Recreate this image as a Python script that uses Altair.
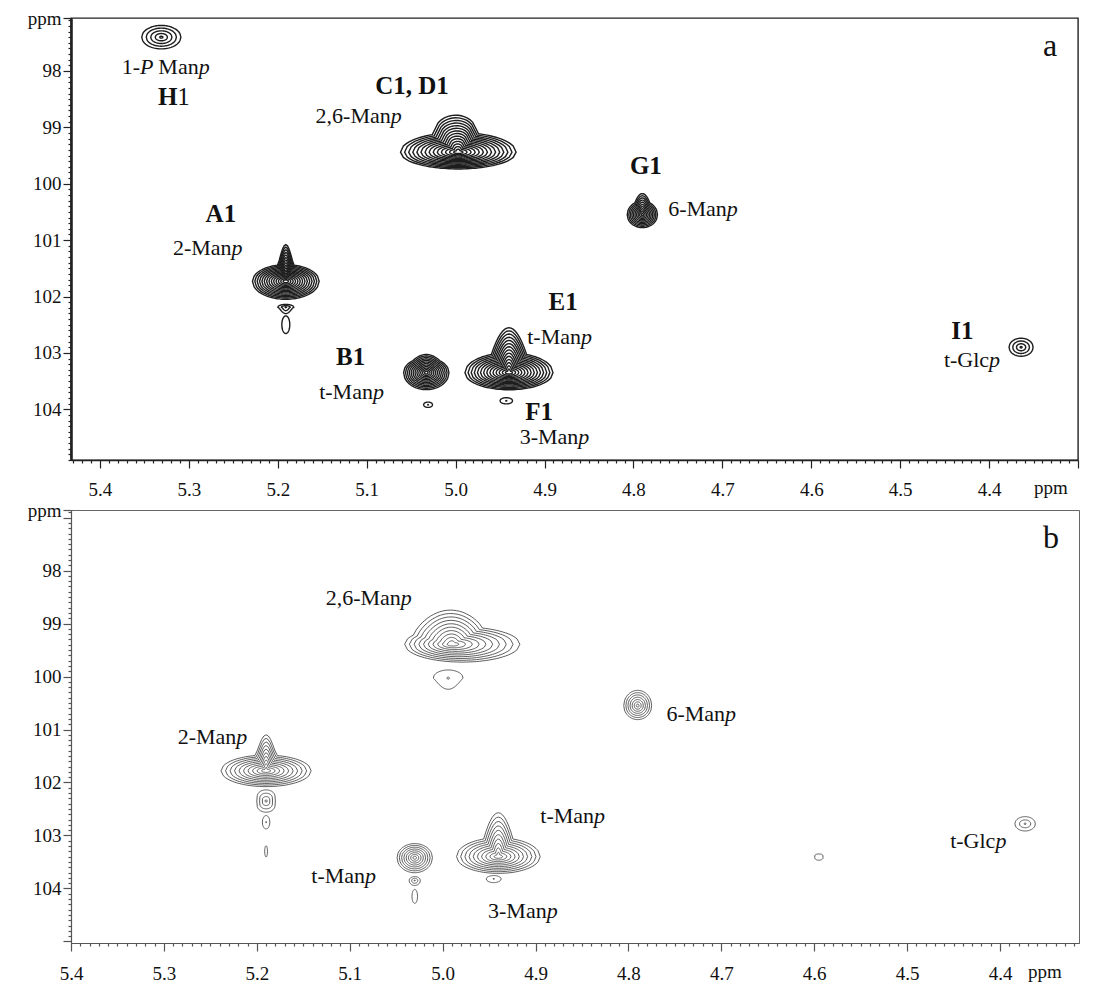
import altair as alt
import numpy as np
import pandas as pd

FONT = "Liberation Serif"

# ---------------- panel a : peaks (1H ppm, 13C ppm, outer width ppm, contour levels) ----------
a_peak = ["a_H1", "a_C1D1", "a_A1", "a_A1b", "a_A1t", "a_G1", "a_B1", "a_B1b", "a_E1F1", "a_E1b", "a_I1"]
a_h = [5.331, 4.997, 5.191, 5.191, 5.191, 4.790, 5.033, 5.031, 4.940, 4.943, 4.364]
a_c = [97.40, 99.44, 101.73, 102.19, 102.50, 100.55, 103.35, 103.92, 103.35, 103.85, 102.90]
a_w = [0.044, 0.130, 0.075, 0.018, 0.009, 0.034, 0.051, 0.010, 0.099, 0.014, 0.027]
a_n = [5, 14, 14, 3, 1, 10, 12, 2, 14, 2, 4]

# ---------------- panel b : peaks ----------------
b_peak = ["b_26M", "b_26Mb", "b_6M", "b_2M", "b_2Mb", "b_2Mt", "b_tMB", "b_tMBb", "b_tMBt",
          "b_tME", "b_tMEb", "b_tGlc", "b_d459", "b_t519"]
b_h = [4.990, 4.994, 4.790, 5.190, 5.190, 5.190, 5.030, 5.030, 5.030, 4.940, 4.945, 4.373, 4.595, 5.190]
b_c = [99.39, 100.03, 100.55, 101.78, 102.35, 102.75, 103.42, 103.85, 104.15, 103.40, 103.82, 102.78, 103.42, 103.30]
b_w = [0.124, 0.032, 0.030, 0.097, 0.020, 0.008, 0.038, 0.012, 0.006, 0.090, 0.016, 0.022, 0.009, 0.003]
b_n = [10, 2, 7, 10, 4, 2, 8, 3, 1, 10, 2, 3, 1, 1]

# ---------------- labels ----------------
a_lab_text = ["1-|P", "Man|p", "H|1", "C1, D1", "2,6-Man|p", "A1", "2-Man|p", "G1", "6-Man|p",
              "E1", "t-Man|p", "B1", "t-Man|p", "F1", "3-Man|p", "I1", "t-Glc|p"]
a_lab_kind = ["ri", "ri", "br", "b", "ri", "b", "ri", "b", "ri", "b", "ri", "b", "ri", "b", "ri", "b", "ri"]
a_lab_x = [5.355, 5.289, 5.313, 5.049, 5.073, 5.264, 5.252, 4.786, 4.695, 4.879, 4.859, 5.118,
           5.093, 4.906, 4.862, 4.430, 4.400]
a_lab_y = [97.93, 97.93, 98.46, 98.27, 98.80, 100.54, 101.145, 99.69, 100.45, 102.09, 102.71,
           103.08, 103.70, 104.04, 104.50, 102.62, 103.12]

b_lab_text = ["2,6-Man|p", "6-Man|p", "2-Man|p", "t-Man|p", "3-Man|p", "t-Man|p", "t-Glc|p"]
b_lab_kind = ["ri"] * 7
b_lab_x = [5.045, 4.696, 5.222, 5.0835, 4.888, 4.837, 4.405]
b_lab_y = [98.51, 100.70, 101.15, 103.76, 104.42, 102.63, 103.10]

# ---------------- axes ----------------
A_XDOM = [5.4326, 4.300]
A_YDOM = [97.06, 104.90]
B_XDOM = [5.400, 4.315]
B_YDOM = [96.856, 105.03]
A_W, A_H = 1007, 442
B_W, B_H = 1008, 433
X_LABELS = [4.4, 5.4]      # labelled range of the 1H axis
Y_LABELS = [98, 104]       # labelled range of the 13C axis

# ---------------- contour outline styles (units of half width) ----------------
SHAPES = {
    "a_H1": dict(top=0.6, bot=0.6),
    "a_C1D1": dict(top=0.34, bot=0.29, bh=0.3, bc=-0.05, bw=0.36, bp=0.4),
    "a_A1": dict(top=0.5, bot=0.54, bh=0.6, bc=0.0, bw=0.25, bp=1.5),
    "a_A1b": dict(top=0.35, bot=0.8, pl=1.5),
    "a_A1t": dict(top=2.2, bot=2.2),
    "a_G1": dict(top=0.9, bot=0.85, bh=0.5, bw=0.5),
    "a_B1": dict(top=0.65, bot=0.75, bh=0.15, bw=0.6),
    "a_B1b": dict(top=0.6, bot=0.6),
    "a_E1F1": dict(top=0.45, bot=0.39, bh=0.57, bw=0.4),
    "a_E1b": dict(top=0.5, bot=0.5),
    "a_I1": dict(top=0.75, bot=0.75),
    "b_26M": dict(top=0.3, bot=0.31, bh=0.3, bc=-0.25, bw=0.6, bp=0.8, xs=0.18),
    "b_26Mb": dict(top=0.55, bot=0.75, pl=1.2),
    "b_6M": dict(top=1.1, bot=1.0),
    "b_2M": dict(top=0.35, bot=0.35, bh=0.45, bw=0.25, bp=1.5),
    "b_2Mb": dict(top=1.2, bot=1.2, pu=0.3, pl=0.3),
    "b_2Mt": dict(top=1.8, bot=1.8),
    "b_tMB": dict(top=0.8, bot=0.85),
    "b_tMBb": dict(top=0.7, bot=0.9),
    "b_tMBt": dict(top=2.5, bot=2.5),
    "b_tME": dict(top=0.45, bot=0.4, bh=0.6, bw=0.35),
    "b_tMEb": dict(top=0.45, bot=0.5),
    "b_tGlc": dict(top=0.7, bot=0.7),
    "b_d459": dict(top=0.9, bot=0.6, pu=0.2),
    "b_t519": dict(top=4.0, bot=4.0),
}


def outline(top, bot, pu=0.5, pl=0.5, bh=0.0, bc=0.0, bw=0.3, bp=1.0, xs=0.0):
    us = np.linspace(-1, 1, 41)
    up = []
    for u in us:
        b = max(0.0, 1 - ((u - bc) / bw) ** 2) ** bp if bh else 0.0
        up.append((u + xs, -(top * max(0.0, 1 - u * u) ** pu + bh * b)))
    lo = [(u + xs, bot * max(0.0, 1 - u * u) ** pl) for u in us[::-1]][1:-1]
    pts = up + lo
    return "M " + " L ".join(f"{x:.3f} {y:.3f}" for x, y in pts) + " Z"


def rings(names, hs, cs, ws, ns, lo):
    rows = []
    for nm, h, c, w, n in zip(names, hs, cs, ws, ns):
        fr = np.linspace(1.0, lo, n) if n > 1 else [1.0]
        for f in fr:
            rows.append({"peak": nm, "x": h, "y": c, "w": w * f})
    return pd.DataFrame(rows)


def fragments(texts, kinds, xs, ys):
    out = {"reg_r": [], "ital_l": [], "bold_c": [], "bold_r": [], "reg_l": []}
    for t, k, x, y in zip(texts, kinds, xs, ys):
        if k == "b":
            out["bold_c"].append({"t": t, "x": x, "y": y})
        else:
            left, right = t.split("|")
            if k == "ri":
                out["reg_r"].append({"t": left, "x": x, "y": y})
                out["ital_l"].append({"t": right, "x": x, "y": y})
            else:
                out["bold_r"].append({"t": left, "x": x, "y": y})
                out["reg_l"].append({"t": right, "x": x, "y": y})
    return {k: pd.DataFrame(v, columns=["t", "x", "y"]) for k, v in out.items()}


def panel(names, hs, cs, ws, ns, lo, labels, xdom, ydom, W, H, color, sw, axcol, domw_x, domw_y,
          letter, ppm_xy, frame_col, frame_w, lab_pad):
    px_per = W / (xdom[0] - xdom[1])
    ring_df = rings(names, hs, cs, ws, ns, lo)

    xmin = np.round(np.arange(round(xdom[1] + 0.0049, 2), xdom[0] + 1e-9, 0.01), 2).tolist()
    ymin = [ydom[0]] + np.round(np.arange(np.ceil(ydom[0] * 10 + 1e-6) / 10, ydom[1] + 1e-9, 0.1), 1).tolist()

    top = ydom[0] + 0.02
    xmaj = "abs(datum.value * 10 - round(datum.value * 10)) < 0.001"
    xlab = f"({xmaj}) && datum.value > {X_LABELS[0] - 0.05} && datum.value < {X_LABELS[1] + 0.05}"
    yint = "abs(datum.value - round(datum.value)) < 0.001"
    ymaj = f"datum.value < {top} || {yint}"
    ylab = f"({yint}) && datum.value > {Y_LABELS[0] - 0.5} && datum.value < {Y_LABELS[1] + 0.5}"

    X = alt.X("x:Q", scale=alt.Scale(domain=xdom, nice=False, zero=False),
              axis=alt.Axis(values=xmin, title=None, grid=False, orient="bottom",
                            labelExpr=f"({xlab}) ? format(datum.value, '.1f') : ''",
                            tickSize={"condition": {"test": xmaj, "value": 8}, "value": 3},
                            tickColor=axcol, tickWidth=1.2, domainColor=axcol, domainWidth=domw_x,
                            labelFont=FONT, labelFontSize=19, labelColor="#111", labelPadding=lab_pad,
                            labelOverlap=False, labelFlush=False, labelBound=False))
    Y = alt.Y("y:Q", scale=alt.Scale(domain=ydom, nice=False, zero=False, reverse=True),
              axis=alt.Axis(values=ymin, title=None, grid=False, orient="left",
                            labelExpr=f"datum.value < {top} ? 'ppm' : (({ylab}) ? format(datum.value, 'd') : '')",
                            tickSize={"condition": {"test": ymaj, "value": 8}, "value": 3},
                            tickColor=axcol, tickWidth=1.2, domainColor=axcol, domainWidth=domw_y,
                            labelFont=FONT, labelFontSize=19, labelColor="#111", labelPadding=2,
                            labelOverlap=False, labelFlush=False, labelBound=False))

    cont = alt.Chart(ring_df).mark_point(filled=False, color=color, strokeWidth=sw, opacity=1).encode(
        x=X, y=Y,
        shape=alt.Shape("peak:N", scale=alt.Scale(domain=names, range=[outline(**SHAPES[n]) for n in names]),
                        legend=None),
        size=alt.Size("w:Q", scale=alt.Scale(type="pow", exponent=2, domain=[0, 1], range=[0, px_per ** 2]),
                      legend=None),
    )

    frags = fragments(*labels)
    layers = [cont]
    styles = {
        "reg_r": dict(align="right", fontStyle="normal", fontWeight="normal", fontSize=22),
        "ital_l": dict(align="left", fontStyle="italic", fontWeight="normal", fontSize=22),
        "bold_c": dict(align="center", fontStyle="normal", fontWeight="bold", fontSize=25),
        "bold_r": dict(align="right", fontStyle="normal", fontWeight="bold", fontSize=25),
        "reg_l": dict(align="left", fontStyle="normal", fontWeight="normal", fontSize=25),
    }
    for k, df in frags.items():
        if len(df) == 0:
            continue
        layers.append(alt.Chart(df).mark_text(font=FONT, baseline="middle", color="#111", **styles[k]).encode(
            x=X, y=Y, text="t:N"))

    layers.append(alt.Chart(pd.DataFrame({"t": [letter]})).mark_text(
        font=FONT, fontSize=32, baseline="middle", align="center", color="#111").encode(
        x=alt.value(W - 28), y=alt.value(28), text="t:N"))
    layers.append(alt.Chart(pd.DataFrame({"t": ["ppm"]})).mark_text(
        font=FONT, fontSize=19, baseline="alphabetic", align="center", color="#111").encode(
        x=alt.value(ppm_xy[0]), y=alt.value(ppm_xy[1]), text="t:N"))

    return alt.layer(*layers).properties(
        width=W, height=H, view=alt.ViewBackground(stroke=frame_col, strokeWidth=frame_w))


chart_a = panel(a_peak, a_h, a_c, a_w, a_n, 0.08,
                (a_lab_text, a_lab_kind, a_lab_x, a_lab_y),
                A_XDOM, A_YDOM, A_W, A_H, "#1e1e1e", 1.4, "#222", 1.6, 2.6, "a", (980, 476), "#222", 1.4, 12)
chart_b = panel(b_peak, b_h, b_c, b_w, b_n, 0.1,
                (b_lab_text, b_lab_kind, b_lab_x, b_lab_y),
                B_XDOM, B_YDOM, B_W, B_H, "#333", 0.8, "#555", 1.0, 1.2, "b", (974, 468), "#666", 1.0, 13)

chart = alt.vconcat(chart_a, chart_b, spacing=0).resolve_scale(
    size="independent", shape="independent", x="independent", y="independent"
).properties(padding={"left": 18, "top": 0, "right": 0, "bottom": 0}, background="white")

chart.save("out.html", embed_options={"renderer": "svg", "actions": False})
